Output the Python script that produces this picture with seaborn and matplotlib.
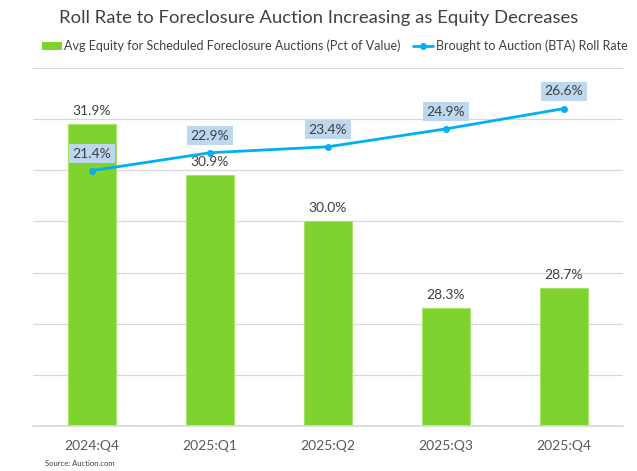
import pandas as pd
import matplotlib.pyplot as plt
import seaborn as sns
from matplotlib.patches import Patch
from matplotlib.lines import Line2D

# Chart values
quarters = ['2024:Q4', '2025:Q1', '2025:Q2', '2025:Q3', '2025:Q4']
avg_equity = [31.9, 30.9, 30.0, 28.3, 28.7]
bta_roll_rate = [21.4, 22.9, 23.4, 24.9, 26.6]

df = pd.DataFrame({'Quarter': quarters, 'Equity': avg_equity, 'BTA': bta_roll_rate})

sns.set_theme(style='white')
plt.rcParams['font.family'] = ['Lato', 'DejaVu Sans']

bar_color = '#7ED32F'
line_color = '#00B0F0'
text_color = '#404040'

fig = plt.figure(figsize=(6.37, 4.71), dpi=100)
ax = fig.add_axes([33 / 637, 1 - 426 / 471, 590 / 637, 358 / 471])

sns.barplot(data=df, x='Quarter', y='Equity', color=bar_color, width=0.4, saturation=1,
            edgecolor='#A6E36A', linewidth=0.8, ax=ax, zorder=2)
ax.set_ylim(26, 33)
ax.set_yticks(range(26, 34))
ax.yaxis.grid(True, color='#D9D9D9', linewidth=0.9, zorder=0)
ax.set_axisbelow(True)
ax.set_yticklabels([])
ax.tick_params(axis='y', length=0)
ax.tick_params(axis='x', length=0, labelsize=10, labelcolor='#595959', pad=10)
ax.set_xlabel('')
ax.set_ylabel('')
for s in ['top', 'right', 'left']:
    ax.spines[s].set_visible(False)
ax.spines['bottom'].set_color('#D9D9D9')
ax.set_xlim(-0.5, 4.5)

for i, v in enumerate(avg_equity):
    ax.annotate(f'{v:.1f}%', (i, v), xytext=(0, 5), textcoords='offset points',
                ha='center', va='bottom', fontsize=10, color=text_color)

ax2 = ax.twinx()
sns.lineplot(data=df, x='Quarter', y='BTA', color=line_color, linewidth=2,
             marker='o', markersize=5, markeredgewidth=0, ax=ax2, zorder=3)
ax2.set_ylim(0, 30)
ax2.set_yticks([])
ax2.set_ylabel('')
for s in ['top', 'right', 'left', 'bottom']:
    ax2.spines[s].set_visible(False)

for i, v in enumerate(bta_roll_rate):
    ax2.annotate(f'{v:.1f}%', (i, v), xytext=(0, 8), textcoords='offset points',
                 ha='center', va='bottom', fontsize=10, color=text_color,
                 bbox=dict(boxstyle='square,pad=0.25', fc='#BDD7EE', ec='none'))

fig.text(0.5, 1 - 18 / 471, 'Roll Rate to Foreclosure Auction Increasing as Equity Decreases',
         ha='center', va='center', fontsize=13.3, color=text_color)

handles = [Patch(facecolor=bar_color, edgecolor='none'),
           Line2D([0], [0], color=line_color, linewidth=2, marker='o', markersize=4)]
labels = ['Avg Equity for Scheduled Foreclosure Auctions (Pct of Value)',
          'Brought to Auction (BTA) Roll Rate']
fig.legend(handles, labels, loc='center', bbox_to_anchor=(0.525, 1 - 46 / 471), ncol=2,
           frameon=False, fontsize=9, handlelength=1.6, handletextpad=0.2,
           columnspacing=1.0, labelcolor='#404040')

fig.text(45 / 637, 1 - 463 / 471, 'Source: Auction.com', fontsize=5.5, color='#404040',
         ha='left', va='center')

fig.savefig('out.png', dpi=100)
